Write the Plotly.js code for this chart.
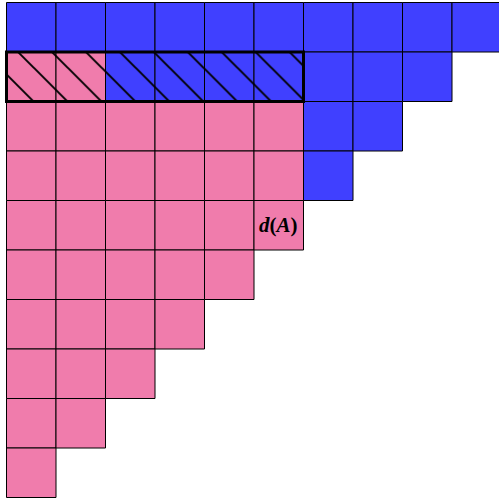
<!DOCTYPE html>
<html>
<head>
<meta charset="utf-8">
<script src="https://cdn.plot.ly/plotly-3.0.1.min.js"></script>
<style>html,body{margin:0;padding:0;background:#fff;}#chart{width:499px;height:501px;}</style>
</head>
<body>
<div id="chart"></div>
<script>
// Row lengths of the diagram (top to bottom)
const rowLengths = [10, 9, 8, 7, 6, 5, 4, 3, 2, 1];
// Number of pink cells at the start of each row (rest are blue)
const pinkCounts = [0, 2, 6, 6, 6, 5, 4, 3, 2, 1];
// Hatched, outlined strip
const hatchRow = 1;
const hatchCount = 6;
// Label
const labelText = '<b><i>d</i>(<i>A</i>)</b>';
const labelRow = 4;
const labelCol = 5;

const PINK = '#f07cac';
const BLUE = '#4040ff';

const groups = {pink: {x: [], b: []}, blue: {x: [], b: []}, pinkH: {x: [], b: []}, blueH: {x: [], b: []}};
rowLengths.forEach((len, r) => {
  for (let c = 0; c < len; c++) {
    const isPink = c < pinkCounts[r];
    const hatched = (r === hatchRow && c < hatchCount);
    const key = (isPink ? 'pink' : 'blue') + (hatched ? 'H' : '');
    groups[key].x.push(c + 0.5);
    groups[key].b.push(r);
  }
});

function cellTrace(g, color, hatched) {
  const marker = {color: color, line: {color: '#000', width: 1}};
  if (hatched) {
    marker.pattern = {shape: '\\', size: 24, solidity: 0.08, fgcolor: '#000', bgcolor: color, fillmode: 'replace'};
  }
  return {
    type: 'bar', x: g.x, base: g.b, y: g.x.map(() => 1), width: g.x.map(() => 1),
    marker: marker, hoverinfo: 'skip', showlegend: false
  };
}

const traces = [
  cellTrace(groups.blue, BLUE, false),
  cellTrace(groups.pink, PINK, false),
  cellTrace(groups.pinkH, PINK, true),
  cellTrace(groups.blueH, BLUE, true),
  {
    type: 'bar', x: [hatchCount / 2], base: [hatchRow], y: [1], width: [hatchCount],
    marker: {color: 'rgba(0,0,0,0)', line: {color: '#000', width: 3}},
    hoverinfo: 'skip', showlegend: false
  }
];

const cell = 49.5, offX = 6.5, offY = 2.5, W = 499, H = 501;
const layout = {
  width: W, height: H,
  margin: {l: 0, r: 0, t: 0, b: 0, pad: 0},
  paper_bgcolor: '#fff', plot_bgcolor: '#fff',
  barmode: 'overlay',
  xaxis: {range: [-offX / cell, (W - offX) / cell], visible: false, fixedrange: true},
  yaxis: {range: [(H - offY) / cell, -offY / cell], visible: false, fixedrange: true},
  annotations: [{
    x: labelCol + 0.5, y: labelRow + 0.5, xref: 'x', yref: 'y', text: labelText,
    showarrow: false, font: {family: 'Liberation Serif', size: 21, color: '#000'}
  }]
};

Plotly.newPlot('chart', traces, layout, {staticPlot: true, displayModeBar: false});
</script>
</body>
</html>
